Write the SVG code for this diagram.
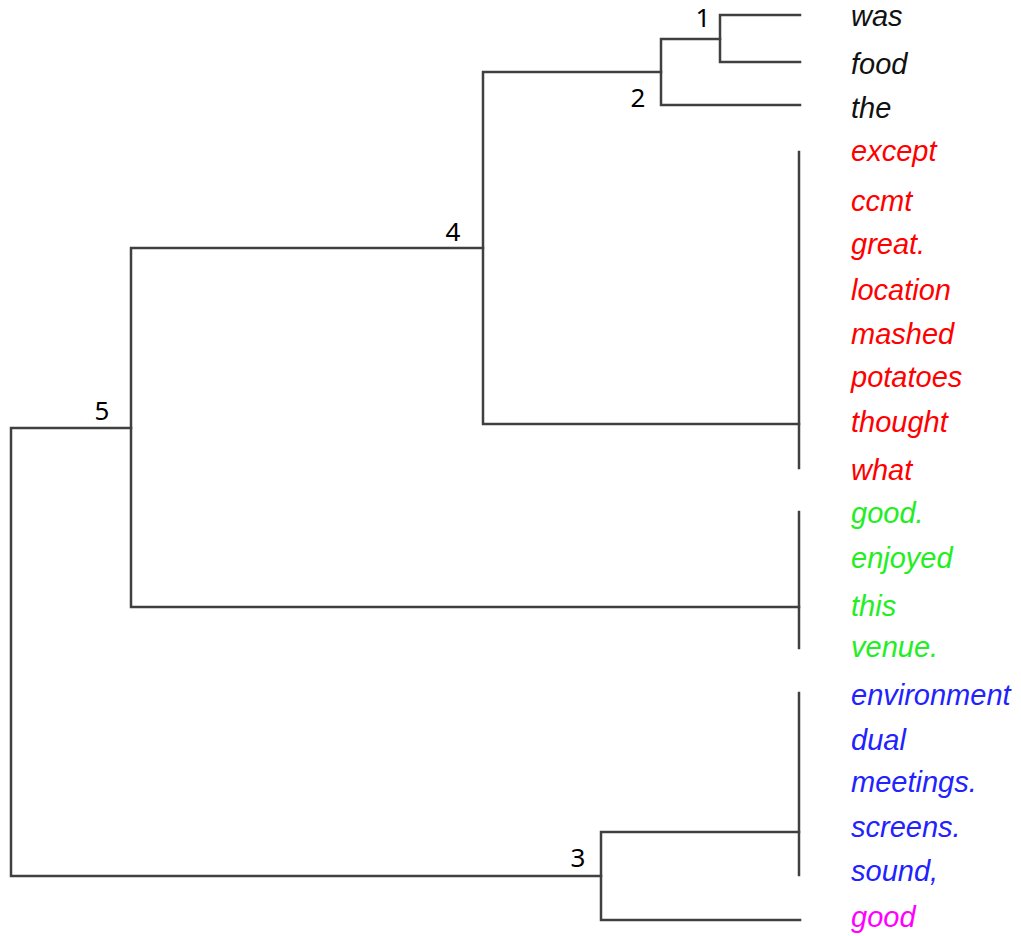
<svg xmlns="http://www.w3.org/2000/svg" width="1021" height="936" viewBox="0 0 1021 936">
<style>
.ln{fill:none;stroke:#404040;stroke-width:2.5;stroke-linecap:square}
.leaf{font-family:"Liberation Sans",Arial,sans-serif;font-style:italic;font-size:29px}
.num{font-family:"Noto Sans","Liberation Sans",sans-serif;font-size:26px;fill:#000;text-anchor:middle}
.k{fill:#111}.r{fill:#ff0000}.g{fill:#22ee22}.b{fill:#2222ff}.m{fill:#ff00ff}
</style>
<rect width="1021" height="936" fill="#fff"/>
<g id="connectors">
<path class="ln" d="M800,15 H720 V62 H800"/>
<path class="ln" d="M720,39 H661 V105 H800"/>
<path class="ln" d="M661,72 H483 V424 H799"/>
<path class="ln" d="M799,152 V468"/>
<path class="ln" d="M483,248 H131 V607 H799"/>
<path class="ln" d="M799,512 V648"/>
<path class="ln" d="M799,693 V875"/>
<path class="ln" d="M799,832 H601 V920 H800"/>
<path class="ln" d="M131,428 H11 V876 H601"/>
</g>
<g id="node1"><text class="num" x="703" y="27">1</text></g>
<g id="node2"><text class="num" x="638" y="107">2</text></g>
<g id="node3"><text class="num" x="578" y="867">3</text></g>
<g id="node4"><text class="num" x="453" y="241">4</text></g>
<g id="node5"><text class="num" x="102" y="420">5</text></g>
<g id="leaf-was"><text class="leaf k" x="851" y="26">was</text></g>
<g id="leaf-food"><text class="leaf k" x="851" y="74">food</text></g>
<g id="leaf-the"><text class="leaf k" x="851" y="118">the</text></g>
<g id="leaf-except"><text class="leaf r" x="851" y="161">except</text></g>
<g id="leaf-ccmt"><text class="leaf r" x="851" y="211">ccmt</text></g>
<g id="leaf-great"><text class="leaf r" x="851" y="254">great.</text></g>
<g id="leaf-location"><text class="leaf r" x="851" y="300">location</text></g>
<g id="leaf-mashed"><text class="leaf r" x="851" y="344">mashed</text></g>
<g id="leaf-potatoes"><text class="leaf r" x="851" y="387">potatoes</text></g>
<g id="leaf-thought"><text class="leaf r" x="851" y="432">thought</text></g>
<g id="leaf-what"><text class="leaf r" x="851" y="480">what</text></g>
<g id="leaf-good-dot"><text class="leaf g" x="851" y="523">good.</text></g>
<g id="leaf-enjoyed"><text class="leaf g" x="851" y="568">enjoyed</text></g>
<g id="leaf-this"><text class="leaf g" x="851" y="616">this</text></g>
<g id="leaf-venue"><text class="leaf g" x="851" y="657">venue.</text></g>
<g id="leaf-environment"><text class="leaf b" x="851" y="705">environment</text></g>
<g id="leaf-dual"><text class="leaf b" x="851" y="750">dual</text></g>
<g id="leaf-meetings"><text class="leaf b" x="851" y="792">meetings.</text></g>
<g id="leaf-screens"><text class="leaf b" x="851" y="837">screens.</text></g>
<g id="leaf-sound"><text class="leaf b" x="851" y="881">sound,</text></g>
<g id="leaf-good"><text class="leaf m" x="851" y="927">good</text></g>
</svg>
